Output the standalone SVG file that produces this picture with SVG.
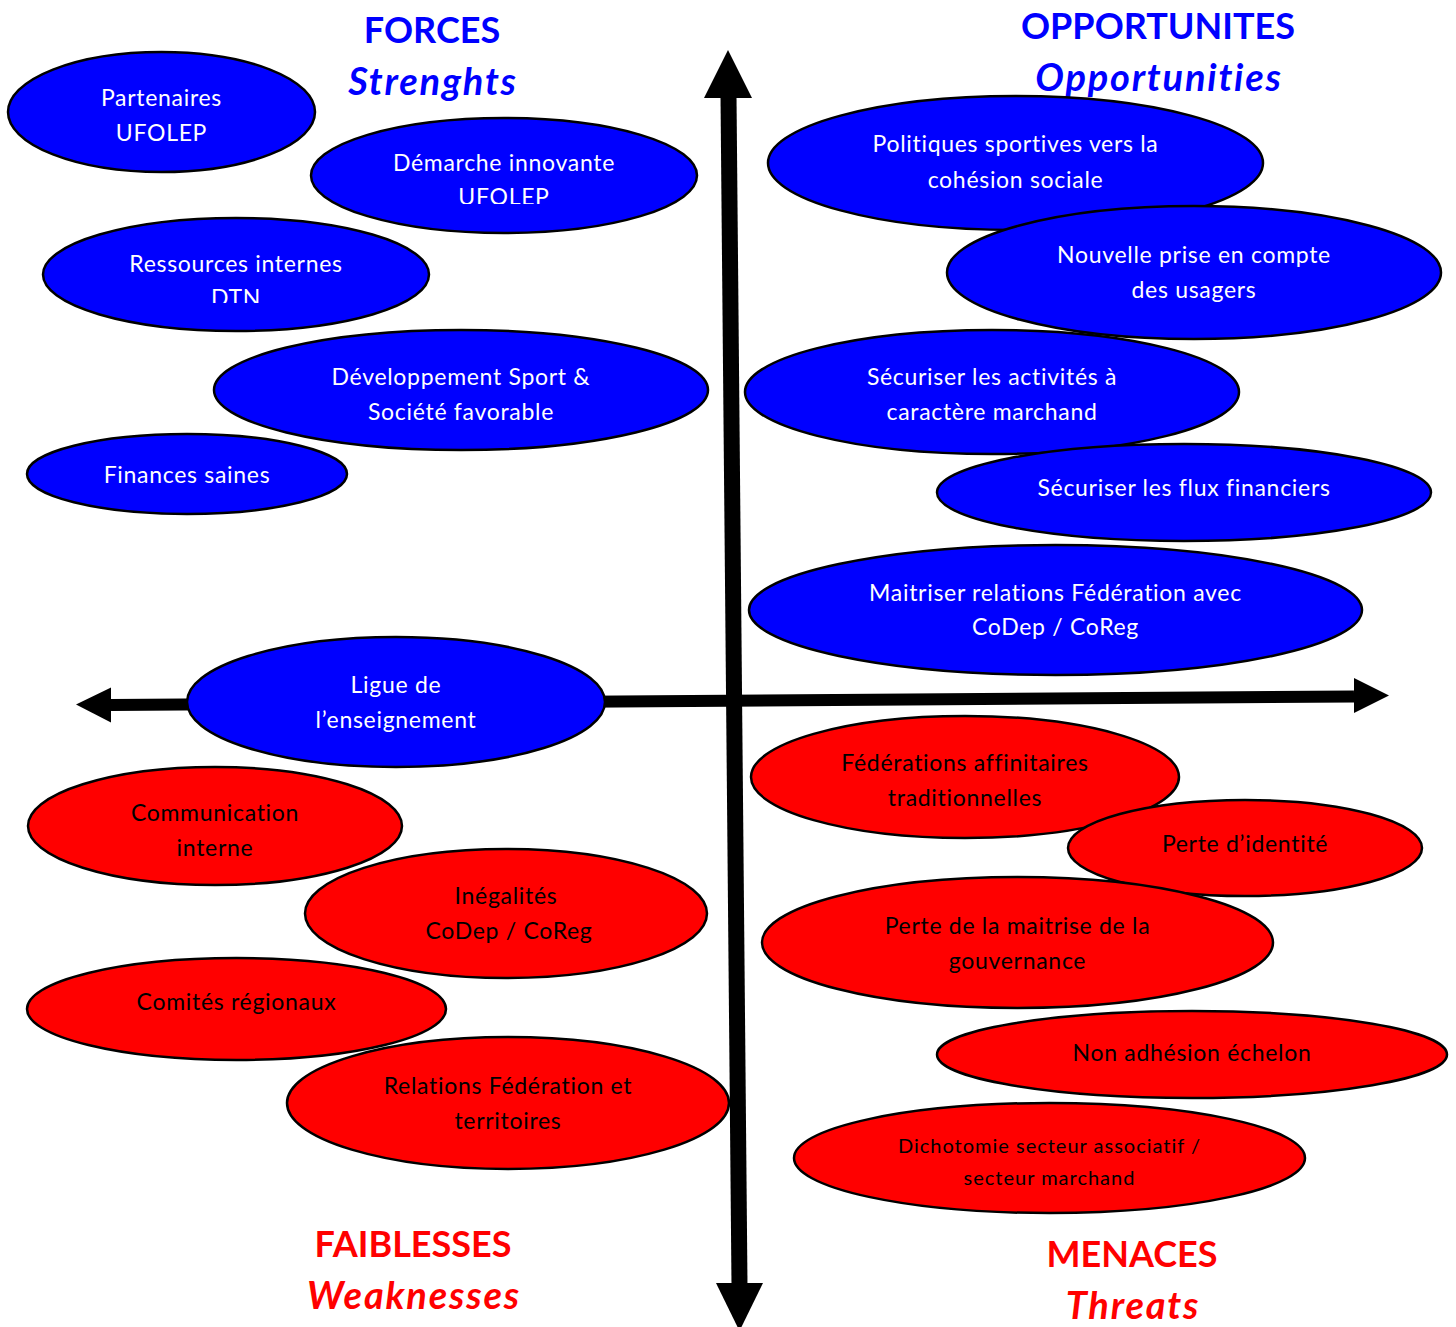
<svg xmlns="http://www.w3.org/2000/svg" width="1456" height="1327" viewBox="0 0 1456 1327">
  <style>
    .bg { fill: #ffffff; }
    .strength { fill: #0000ff; stroke: #000000; stroke-width: 2.5; }
    .weak { fill: #ff0000; stroke: #000000; stroke-width: 2.5; }
    text { font-variant-ligatures: none; }
    .lbl { font-family: Lato, "Liberation Sans", sans-serif; font-size: 23px; letter-spacing: 0.7px; text-anchor: middle; }
    .lbl-w { fill: #ffffff; }
    .lbl-k { fill: #000000; }
    .small { font-size: 20px; letter-spacing: 1px; }
    .title { font-family: Lato, "Liberation Sans", sans-serif; font-size: 36px; font-weight: bold; text-anchor: middle; }
    .sub { font-style: italic; font-size: 38px; letter-spacing: 1.8px; }
    .blue { fill: #0000ff; }
    .red { fill: #ff0000; }
    .axis { stroke: #000000; fill: none; }
    .head { fill: #000000; }
  </style>
  <defs>
    <clipPath id="clip-demarche"><rect x="300" y="100" width="420" height="104"/></clipPath>
    <clipPath id="clip-dtn"><rect x="30" y="200" width="420" height="103"/></clipPath>
  </defs>

  <rect class="bg" x="0" y="0" width="1456" height="1327"/>

  <!-- Axes -->
  <g id="connectors">
    <line class="axis" x1="111" y1="705" x2="1354" y2="696.5" stroke-width="12"/>
    <polygon class="head" points="76,704.5 111,687.5 111,722.5"/>
    <polygon class="head" points="1389,695.5 1354,678 1354,713"/>
    <line class="axis" x1="728.5" y1="96" x2="739.5" y2="1285" stroke-width="16"/>
    <polygon class="head" points="728,50 704,98 752,98"/>
    <polygon class="head" points="739.5,1331 716,1283 763,1283"/>
  </g>

  <!-- Quadrant titles -->
  <g id="titles">
    <text class="title blue" x="432" y="43">FORCES</text>
    <text class="title blue sub" x="433" y="95">Strenghts</text>
    <text class="title blue" x="1158" y="39">OPPORTUNITES</text>
    <text class="title blue sub" x="1159" y="91">Opportunities</text>
    <text class="title red" x="413" y="1257">FAIBLESSES</text>
    <text class="title red sub" x="414" y="1309">Weaknesses</text>
    <text class="title red" x="1132" y="1267">MENACES</text>
    <text class="title red sub" x="1133" y="1319">Threats</text>
  </g>

  <!-- Strengths -->
  <g id="n-partenaires">
    <ellipse class="strength" cx="161.5" cy="112" rx="153.5" ry="60"/>
    <text class="lbl lbl-w" x="161.5" y="105.5">Partenaires</text>
    <text class="lbl lbl-w" x="161.5" y="140.5">UFOLEP</text>
  </g>
  <g id="n-demarche">
    <ellipse class="strength" cx="504" cy="175.5" rx="193" ry="57.5"/>
    <text class="lbl lbl-w" x="504" y="170.5">Démarche innovante</text>
    <text class="lbl lbl-w" x="504" y="204.5" clip-path="url(#clip-demarche)">UFOLEP</text>
  </g>
  <g id="n-ressources">
    <ellipse class="strength" cx="236" cy="274.5" rx="193" ry="56.5"/>
    <text class="lbl lbl-w" x="236" y="271.5">Ressources internes</text>
    <text class="lbl lbl-w" x="236" y="305.5" clip-path="url(#clip-dtn)">DTN</text>
  </g>
  <g id="n-developpement">
    <ellipse class="strength" cx="461" cy="390" rx="247" ry="60"/>
    <text class="lbl lbl-w" x="461" y="384.5">Développement Sport &amp;</text>
    <text class="lbl lbl-w" x="461" y="419.5">Société favorable</text>
  </g>
  <g id="n-finances">
    <ellipse class="strength" cx="187" cy="474" rx="160" ry="40"/>
    <text class="lbl lbl-w" x="187" y="482.5">Finances saines</text>
  </g>

  <!-- Opportunities -->
  <g id="n-politiques">
    <ellipse class="strength" cx="1015.5" cy="163" rx="247.5" ry="67"/>
    <text class="lbl lbl-w" x="1015.5" y="151.5">Politiques sportives vers la</text>
    <text class="lbl lbl-w" x="1015.5" y="187.5">cohésion sociale</text>
  </g>
  <g id="n-usagers">
    <ellipse class="strength" cx="1194" cy="272.5" rx="247" ry="66.5"/>
    <text class="lbl lbl-w" x="1194" y="262.5">Nouvelle prise en compte</text>
    <text class="lbl lbl-w" x="1194" y="297.5">des usagers</text>
  </g>
  <g id="n-activites">
    <ellipse class="strength" cx="992" cy="392" rx="247" ry="62"/>
    <text class="lbl lbl-w" x="992" y="384.5">Sécuriser les activités à</text>
    <text class="lbl lbl-w" x="992" y="419.5">caractère marchand</text>
  </g>
  <g id="n-flux">
    <ellipse class="strength" cx="1184" cy="492.5" rx="247" ry="48.5"/>
    <text class="lbl lbl-w" x="1184" y="495.5">Sécuriser les flux financiers</text>
  </g>
  <g id="n-relations-codep">
    <ellipse class="strength" cx="1055.5" cy="610" rx="306.5" ry="65"/>
    <text class="lbl lbl-w" x="1055.5" y="600.5">Maitriser relations Fédération avec</text>
    <text class="lbl lbl-w" x="1055.5" y="634.5">CoDep / CoReg</text>
  </g>
  <g id="n-ligue">
    <ellipse class="strength" cx="396" cy="702" rx="209" ry="65"/>
    <text class="lbl lbl-w" x="396" y="692.5">Ligue de</text>
    <text class="lbl lbl-w" x="396" y="727.5">l’enseignement</text>
  </g>

  <!-- Threats -->
  <g id="n-federations">
    <ellipse class="weak" cx="965" cy="777" rx="214" ry="61"/>
    <text class="lbl lbl-k" x="965" y="770.5">Fédérations affinitaires</text>
    <text class="lbl lbl-k" x="965" y="805.5">traditionnelles</text>
  </g>
  <g id="n-identite">
    <ellipse class="weak" cx="1245" cy="848" rx="177" ry="48"/>
    <text class="lbl lbl-k" x="1245" y="851.5">Perte d’identité</text>
  </g>
  <g id="n-gouvernance">
    <ellipse class="weak" cx="1017.5" cy="942.5" rx="255.5" ry="65.5"/>
    <text class="lbl lbl-k" x="1017.5" y="933.5">Perte de la maitrise de la</text>
    <text class="lbl lbl-k" x="1017.5" y="968.5">gouvernance</text>
  </g>
  <g id="n-echelon">
    <ellipse class="weak" cx="1192" cy="1054.5" rx="255" ry="43.5"/>
    <text class="lbl lbl-k" x="1192" y="1060.5">Non adhésion échelon</text>
  </g>
  <g id="n-dichotomie">
    <ellipse class="weak" cx="1049.5" cy="1158" rx="255.5" ry="55"/>
    <text class="lbl lbl-k small" x="1049.5" y="1152.5">Dichotomie secteur associatif /</text>
    <text class="lbl lbl-k small" x="1049.5" y="1184.5">secteur marchand</text>
  </g>

  <!-- Weaknesses -->
  <g id="n-communication">
    <ellipse class="weak" cx="215" cy="826" rx="187" ry="59"/>
    <text class="lbl lbl-k" x="215" y="820.5">Communication</text>
    <text class="lbl lbl-k" x="215" y="855.5">interne</text>
  </g>
  <g id="n-inegalites">
    <ellipse class="weak" cx="506" cy="913.5" rx="201" ry="64.5"/>
    <text class="lbl lbl-k" x="506" y="903.5">Inégalités</text>
    <text class="lbl lbl-k" x="509" y="938.5">CoDep / CoReg</text>
  </g>
  <g id="n-comites">
    <ellipse class="weak" cx="236.5" cy="1009" rx="209.5" ry="51"/>
    <text class="lbl lbl-k" x="236.5" y="1009.5">Comités régionaux</text>
  </g>
  <g id="n-territoires">
    <ellipse class="weak" cx="508" cy="1103" rx="221" ry="66"/>
    <text class="lbl lbl-k" x="508" y="1093.5">Relations Fédération et</text>
    <text class="lbl lbl-k" x="508" y="1128.5">territoires</text>
  </g>
</svg>
